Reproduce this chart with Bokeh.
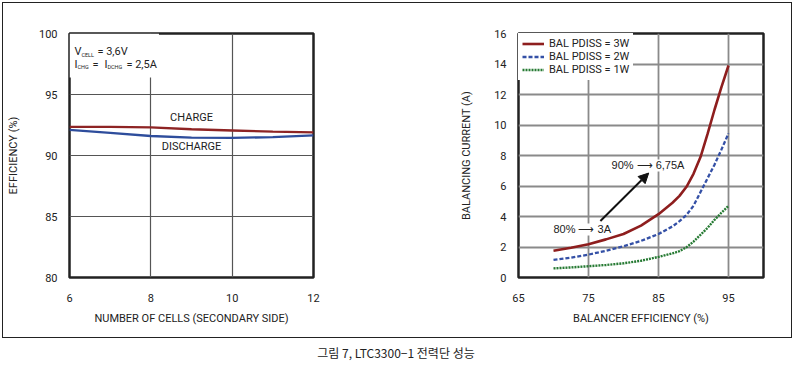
from bokeh.plotting import figure
from bokeh.models import (FixedTicker, Label, Legend, LegendItem, Arrow, NormalHead,
                          BoxAnnotation)
from bokeh.layouts import row, column
from bokeh.embed import file_html
from bokeh.resources import INLINE

# ---------------- data ----------------
cells = [6, 7, 8, 9, 10, 11, 12]
eff_charge = [92.35, 92.35, 92.3, 92.15, 92.05, 91.95, 91.9]
eff_discharge = [92.1, 91.85, 91.6, 91.47, 91.45, 91.5, 91.65]

bal_eff = [70, 72.5, 75, 77.5, 80, 82.5, 85, 87, 88, 89, 90, 91, 92, 93, 94, 95]
cur_3w = [1.75, 1.95, 2.18, 2.5, 2.85, 3.4, 4.15, 4.9, 5.35, 5.95, 6.8, 7.9, 9.4, 11.0, 12.5, 13.9]
cur_2w = [1.15, 1.3, 1.5, 1.75, 2.05, 2.4, 2.85, 3.35, 3.7, 4.1, 4.7, 5.6, 6.5, 7.4, 8.4, 9.45]
cur_1w = [0.6, 0.66, 0.74, 0.82, 0.93, 1.1, 1.35, 1.58, 1.73, 1.98, 2.35, 2.8, 3.25, 3.78, 4.25, 4.7]

left_xticks = [6, 8, 10, 12]
left_yticks = [80, 85, 90, 95, 100]
right_xticks = [65, 75, 85, 95]
right_yticks = [0, 2, 4, 6, 8, 10, 12, 14, 16]

legend_labels = ["BAL PDISS = 3W", "BAL PDISS = 2W", "BAL PDISS = 1W"]
caption = "그림 7, LTC3300−1 전력단 성능"

FONT = "Roboto"
FS = "11px"
TXT = "#222222"


def style(p, xticks, yticks, grid_color, grid_width):
    p.xaxis.ticker = FixedTicker(ticks=xticks)
    p.yaxis.ticker = FixedTicker(ticks=yticks)
    for ax in (p.xaxis[0], p.yaxis[0]):
        ax.major_tick_line_color = None
        ax.minor_tick_line_color = None
        ax.axis_line_color = None
        ax.major_label_text_font = FONT
        ax.major_label_text_font_size = FS
        ax.major_label_text_color = TXT
        ax.axis_label_text_font = FONT
        ax.axis_label_text_font_size = FS
        ax.axis_label_text_font_style = "normal"
        ax.axis_label_text_color = TXT
    p.xaxis.major_label_standoff = 10
    p.xaxis.axis_label_standoff = 7
    p.yaxis.major_label_standoff = 6
    p.grid.grid_line_color = grid_color
    p.grid.grid_line_width = grid_width
    p.outline_line_color = "#222222"
    p.outline_line_width = 2.5
    p.background_fill_color = "white"
    p.border_fill_color = "white"


# ---------------- left plot ----------------
p1 = figure(width=394, height=334, frame_width=244, frame_height=244,
            min_border_left=65, min_border_right=85, min_border_top=30, min_border_bottom=60,
            x_range=(6, 12), y_range=(80, 100), output_backend="svg", toolbar_location=None)
style(p1, left_xticks, left_yticks, "#555555", 1.2)
p1.xaxis.axis_label = "NUMBER OF CELLS (SECONDARY SIDE)"
p1.yaxis.axis_label = "EFFICIENCY (%)"
p1.yaxis.axis_label_standoff = 16

p1.add_layout(BoxAnnotation(left=6, right=8.2, top=100, bottom=96.4, fill_color="white",
                            fill_alpha=1, line_alpha=0, level="underlay"))
p1.line(cells, eff_charge, line_color="#8E2424", line_width=2.3)
p1.line(cells, eff_discharge, line_color="#2E4D9C", line_width=2.3)

p1.add_layout(Label(x=9, y=93.1, text="CHARGE", text_align="center", text_baseline="middle",
                    text_font=FONT, text_font_size=FS, text_color=TXT))
p1.add_layout(Label(x=9, y=90.7, text="DISCHARGE", text_align="center", text_baseline="middle",
                    text_font=FONT, text_font_size=FS, text_color=TXT))

ax0 = 6.12
pieces = [
    ("V", 0, 98.52, FS, 0),
    ("CELL", 7, 98.52, "5.5px", -3),
    ("= 3,6V", 23, 98.52, FS, 0),
    ("I", 0, 97.46, FS, 0),
    ("CHG", 3, 97.46, "5.5px", -3),
    ("=", 18, 97.46, FS, 0),
    ("I", 30, 97.46, FS, 0),
    ("DCHG", 33, 97.46, "5.5px", -3),
    ("= 2,5A", 52, 97.46, FS, 0),
]
for t, dx, yy, fs, dy in pieces:
    p1.add_layout(Label(x=ax0, y=yy, x_offset=dx, y_offset=dy, text=t, text_align="left",
                        text_baseline="middle", text_font=FONT, text_font_size=fs,
                        text_color=TXT))

# ---------------- right plot ----------------
p2 = figure(width=393, height=334, frame_width=245, frame_height=244,
            min_border_left=120, min_border_right=28, min_border_top=30, min_border_bottom=60,
            x_range=(65, 100), y_range=(0, 16), output_backend="svg", toolbar_location=None)
style(p2, right_xticks, right_yticks, "#8a8a8a", 1.8)
p2.xaxis.axis_label = "BALANCER EFFICIENCY (%)"
p2.yaxis.axis_label = "BALANCING CURRENT (A)"
p2.yaxis.axis_label_standoff = 18

r3 = p2.line(bal_eff, cur_3w, line_color="#8E1E1E", line_width=2.6)
r2 = p2.line(bal_eff, cur_2w, line_color="#3450A6", line_width=2.3, line_dash="4 2")
r1 = p2.line(bal_eff, cur_1w, line_color="#267A33", line_width=2.4, line_dash="2 1")

leg = Legend(items=[LegendItem(label=legend_labels[0], renderers=[r3]),
                    LegendItem(label=legend_labels[1], renderers=[r2]),
                    LegendItem(label=legend_labels[2], renderers=[r1])],
             location="top_left", margin=0, padding=4, spacing=0,
             label_height=13, glyph_height=13, glyph_width=22, label_standoff=5,
             label_text_font=FONT, label_text_font_size=FS, label_text_color=TXT,
             background_fill_color="white", background_fill_alpha=1,
             border_line_alpha=0)
p2.add_layout(leg)

p2.add_layout(Arrow(end=NormalHead(size=10, fill_color="#111111", line_color="#111111"),
                    x_start=76.7, y_start=3.7, x_end=83.6, y_end=6.85,
                    line_color="#111111", line_width=2))
ANN_FONT = "Liberation Sans"
p2.add_layout(Label(x=74.1, y=3.15, text="80% ⟶ 3A", text_align="center", text_baseline="middle",
                    text_font=ANN_FONT, text_font_size=FS, text_color=TXT,
                    background_fill_color="white", background_fill_alpha=1))
p2.add_layout(Label(x=83.5, y=7.35, text="90% ⟶ 6,75A", text_align="center", text_baseline="middle",
                    text_font=ANN_FONT, text_font_size=FS, text_color=TXT,
                    background_fill_color="white", background_fill_alpha=1))

# ---------------- caption ----------------
cap = figure(width=787, height=28, x_range=(0, 1), y_range=(0, 1),
             output_backend="svg", toolbar_location=None, min_border=0)
cap.axis.visible = False
cap.grid.visible = False
cap.outline_line_color = None
cap.add_layout(Label(x=0.5, y=0.5, text=caption, text_align="center", text_baseline="middle",
                     text_font="Noto Sans CJK KR", text_font_size="12px", text_color=TXT))

top = row(p1, p2, styles={"border": "1.5px solid #222222"})
layout = column(top, cap, margin=(2, 0, 0, 2))

open("out.html", "w").write(file_html(layout, INLINE))
